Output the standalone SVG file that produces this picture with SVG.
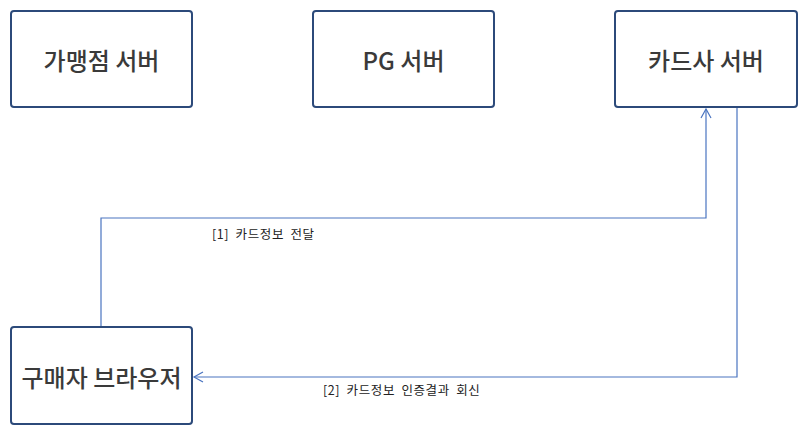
<svg xmlns="http://www.w3.org/2000/svg" width="809" height="436" viewBox="0 0 809 436">
<style>
.box{fill:#fff;stroke:#2c4a7a;stroke-width:2}
.t{font-family:"Noto Sans CJK KR","Noto Sans",sans-serif;font-size:24px;font-weight:500;fill:#3a3a3a;text-anchor:middle;dominant-baseline:central}
.lbl{font-family:"Noto Sans CJK KR","Noto Sans",sans-serif;font-size:12.5px;fill:#222;word-spacing:3px;letter-spacing:0.6px}
.c{fill:none;stroke:#4a74c0;stroke-width:1.2}
</style>
<defs>
<marker id="ah" markerWidth="12" markerHeight="12" refX="10" refY="6" orient="auto" markerUnits="userSpaceOnUse">
<path d="M1,1 L10,6 L1,11" fill="none" stroke="#4a74c0" stroke-width="1.2"/>
</marker>
</defs>
<rect width="809" height="436" fill="#fff"/>
<g id="node-merchant"><rect class="box" x="11" y="11" width="181" height="96" rx="3"/><text class="t" x="101.5" y="59">가맹점 서버</text></g>
<g id="node-pg"><rect class="box" x="313" y="11" width="181" height="96" rx="3"/><text class="t" x="403.5" y="59">PG 서버</text></g>
<g id="node-card"><rect class="box" x="615" y="11" width="182" height="96" rx="3"/><text class="t" x="706" y="59">카드사 서버</text></g>
<g id="node-browser"><rect class="box" x="11" y="327" width="181" height="97" rx="3"/><text class="t" x="101.5" y="376">구매자 브라우저</text></g>
<g id="connectors">
<path class="c" d="M101,326 V218 H706 V109" marker-end="url(#ah)"/>
<path class="c" d="M737,108 V377 H194" marker-end="url(#ah)"/>
<text class="lbl" x="212" y="239">[1] 카드정보 전달</text>
<text class="lbl" x="323" y="395">[2] 카드정보 인증결과 회신</text>
</g>
</svg>
